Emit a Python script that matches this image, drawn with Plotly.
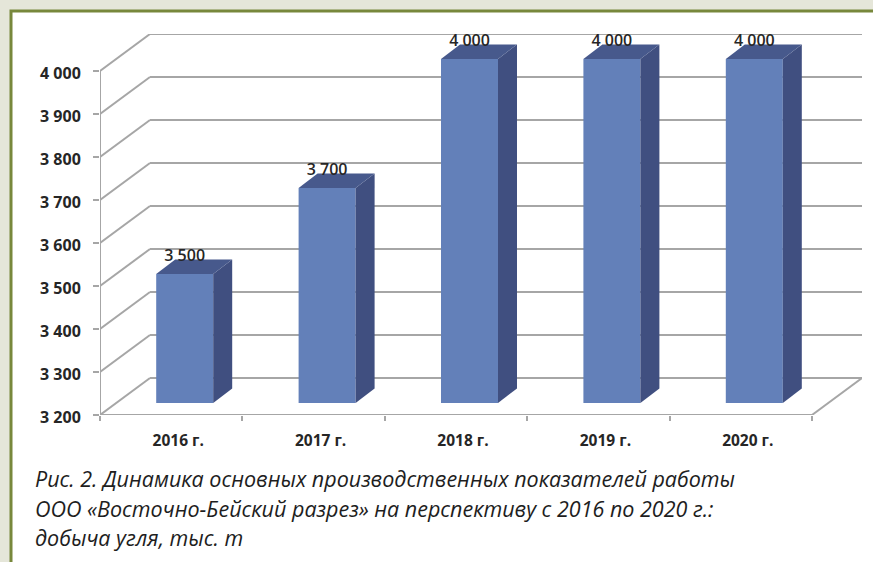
import plotly.graph_objects as go

# ---- data ----
years = ["2016 г.", "2017 г.", "2018 г.", "2019 г.", "2020 г."]
output_values = [3500, 3700, 4000, 4000, 4000]
value_labels = ["3 500", "3 700", "4 000", "4 000", "4 000"]
y_ticks = [3200, 3300, 3400, 3500, 3600, 3700, 3800, 3900, 4000]
y_tick_labels = ["3 200", "3 300", "3 400", "3 500", "3 600", "3 700", "3 800", "3 900", "4 000"]
caption_lines = [
    "Рис. 2. Динамика основных производственных показателей работы",
    "ООО «Восточно-Бейский разрез» на перспективу с 2016 по 2020 г.:",
    "добыча угля, тыс. т",
]

# ---- layout geometry (pixels) ----
W, H = 873, 562
PX_L, PX_R_FRONT, PX_R = 100, 812, 862
PX_B, PX_T_4000, PX_T = 415, 71, 34
CAT_PX = (PX_R_FRONT - PX_L) / len(years)
VAL_PX = (PX_B - PX_T_4000) / (max(y_ticks) - min(y_ticks))
ymin = min(y_ticks)

def dx(px):
    return px / CAT_PX

def dy(px):
    return px / VAL_PX

DEPTH_X, DEPTH_Y = dx(50), dy(37)
x_lo, x_hi = -0.5, len(years) - 0.5
BAR_W = dx(57)
BAR_SHIFT = dx(13.5)
BAR_LIFT = dy(12)
SIDE_X, SIDE_Y = dx(19), dy(14.5)

GRID = "#a6a6a6"
FRONT = "#6380b9"
TOP = "#47598c"
SIDE = "#404f80"
TEXT = "#262626"
fig = go.Figure()

plot_w = PX_R - PX_L
plot_h = PX_B - PX_T

def px_x(p):
    return (p - PX_L) / plot_w

def px_y(p):
    return (PX_B - p) / plot_h

shapes = [dict(type="rect", xref="paper", yref="paper", layer="below",
               x0=px_x(11), x1=px_x(W + 10), y0=px_y(H + 10), y1=px_y(11),
               fillcolor="#ffffff", line=dict(color="#78883c", width=3))]

# wall / floor grid lines and front axis lines, below the bars
grid_line = dict(color=GRID, width=2)

def seg(x0, y0, x1, y1):
    return dict(type="line", xref="x", yref="y", layer="below",
                x0=x0, y0=y0, x1=x1, y1=y1, line=grid_line)

for t in y_ticks:
    shapes.append(seg(x_lo, t, x_lo + DEPTH_X, t + DEPTH_Y))
    shapes.append(seg(x_lo + DEPTH_X, t + DEPTH_Y, x_hi + DEPTH_X, t + DEPTH_Y))
shapes.append(seg(x_hi, ymin, x_hi + DEPTH_X, ymin + DEPTH_Y))
shapes.append(seg(x_lo, ymin, x_lo, max(y_ticks)))
shapes.append(seg(x_lo, ymin, x_hi, ymin))

# 3D faces of the bars
for i, v in enumerate(output_values):
    l = i + BAR_SHIFT - BAR_W / 2
    r = i + BAR_SHIFT + BAR_W / 2
    bot = ymin + BAR_LIFT
    top = v + BAR_LIFT
    fig.add_trace(go.Scatter(
        x=[r, r + SIDE_X, r + SIDE_X, r, r], y=[bot, bot + SIDE_Y, top + SIDE_Y, top, bot],
        mode="lines", fill="toself", fillcolor=SIDE, line=dict(width=0),
        hoverinfo="skip", showlegend=False, cliponaxis=False))
    fig.add_trace(go.Scatter(
        x=[l, l + SIDE_X, r + SIDE_X, r, l], y=[top, top + SIDE_Y, top + SIDE_Y, top, top],
        mode="lines", fill="toself", fillcolor=TOP, line=dict(width=0),
        hoverinfo="skip", showlegend=False, cliponaxis=False))

# front faces
fig.add_trace(go.Bar(
    x=[i + BAR_SHIFT for i in range(len(years))],
    y=[v - ymin for v in output_values],
    base=ymin + BAR_LIFT,
    width=BAR_W,
    marker=dict(color=FRONT, line=dict(width=0)),
    showlegend=False, hoverinfo="skip"))

# data labels
fig.add_trace(go.Scatter(
    x=[i + BAR_SHIFT for i in range(len(years))],
    y=[v + BAR_LIFT + dy(9) for v in output_values],
    mode="text", text=value_labels, textposition="top center",
    textfont=dict(family="Open Sans", size=16, color=TEXT, weight=600),
    hoverinfo="skip", showlegend=False, cliponaxis=False))

annotations = []
for line, py in zip(caption_lines, [478, 508, 537]):
    annotations.append(dict(
        text=line, xref="paper", yref="paper", x=px_x(33), y=px_y(py),
        xanchor="left", yanchor="middle", showarrow=False, align="left",
        font=dict(family="Open Sans", size=21.5, color="#1e1e1e", style="italic")))

fig.update_layout(
    width=W, height=H, autosize=False,
    margin=dict(l=PX_L, r=W - PX_R, t=PX_T, b=H - PX_B, pad=0),
    paper_bgcolor="#e5e6d9", plot_bgcolor="rgba(0,0,0,0)",
    shapes=shapes, annotations=annotations, showlegend=False,
    xaxis=dict(range=[x_lo, x_hi + DEPTH_X], showgrid=False, zeroline=False, showline=False,
               tickmode="array", tickvals=list(range(len(years))), ticktext=years,
               ticks="", ticklabelstandoff=14, ticklabelshift=7,
               tickfont=dict(family="Open Sans", size=15.5, color=TEXT, weight="bold"),
               minor=dict(tickmode="array",
                          tickvals=[i - 0.5 for i in range(len(years) + 1)],
                          ticks="outside", ticklen=5, tickwidth=1.5, tickcolor=GRID, showgrid=False)),
    yaxis=dict(range=[ymin, max(y_ticks) + DEPTH_Y], showgrid=False, zeroline=False, showline=False,
               tickmode="array", tickvals=y_ticks, ticktext=y_tick_labels,
               ticks="outside", ticklen=6, tickwidth=1.5, tickcolor=GRID,
               ticklabelstandoff=9, ticklabelshift=2,
               tickfont=dict(family="Open Sans", size=16, color=TEXT, weight="bold")),
)

fig.write_html("out.html", post_script="document.body.style.margin='0';",
               config=dict(displayModeBar=False))
